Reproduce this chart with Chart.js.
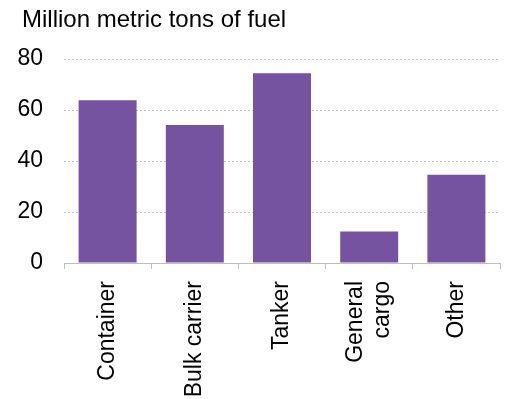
<!DOCTYPE html>
<html>
<head>
<meta charset="utf-8">
<script src="https://cdn.jsdelivr.net/npm/chart.js@4/dist/chart.umd.min.js"></script>
<style>
  html, body { margin: 0; padding: 0; background: #ffffff; }
  #wrap { width: 506px; height: 399px; position: relative; }
  #title {
    position: absolute; left: 22px; top: 7px; margin: 0;
    font: normal 24px/24px "Liberation Sans", Arial, sans-serif;
    color: #000000; white-space: nowrap;
  }
  #c { position: absolute; left: 0; top: 0; }
</style>
</head>
<body>
<div id="wrap">
  <canvas id="c" width="506" height="399"></canvas>
  <div id="title">Million metric tons of fuel</div>
</div>
<script>
// Fuel consumption by ship type (million metric tons)
const categories = ['Container', 'Bulk carrier', 'Tanker', ['General', 'cargo'], 'Other'];
const fuelUse = [63.8, 54.1, 74.4, 12.4, 34.6];
const yTicks = [0, 20, 40, 60, 80];

const FONT = '"Liberation Sans", Arial, sans-serif';

// Center two-line rotated category labels on their tick
const centerMultiLineLabels = {
  id: 'centerMultiLineLabels',
  beforeDraw(chart) {
    const scale = chart.scales.x;
    const items = scale.getLabelItems();
    items.forEach((it) => {
      if (Array.isArray(it.label) && it.label.length > 1 && !it._centered) {
        it.textOffset -= (it.label.length - 1) * it.font.lineHeight / 2;
        it._centered = true;
      }
    });
  }
};

new Chart(document.getElementById('c'), {
  type: 'bar',
  data: {
    labels: categories,
    datasets: [{
      data: fuelUse,
      backgroundColor: '#7553a0',
      borderWidth: 0,
      barPercentage: 0.665,
      categoryPercentage: 1
    }]
  },
  options: {
    responsive: false,
    animation: false,
    events: [],
    layout: { padding: { top: 59, left: 0, right: 6, bottom: 0 } },
    plugins: {
      legend: { display: false },
      tooltip: { enabled: false },
      title: { display: false }
    },
    scales: {
      x: {
        offset: true,
        border: { display: true, color: '#bfbfbf', width: 1 },
        grid: {
          display: true,
          offset: true,
          drawOnChartArea: false,
          drawTicks: true,
          tickLength: 6,
          color: '#bfbfbf'
        },
        ticks: {
          color: '#000000',
          font: { family: FONT, size: 23, lineHeight: 1.2 },
          minRotation: 90,
          maxRotation: 90,
          autoSkip: false,
          padding: 12
        },
        afterFit: (s) => { s.height = 136; }
      },
      y: {
        min: yTicks[0],
        max: yTicks[yTicks.length - 1],
        border: { display: false, dash: [2, 2] },
        grid: {
          color: '#c4c4c4',
          lineWidth: 1,
          drawTicks: false
        },
        afterBuildTicks: (s) => { s.ticks = yTicks.map(v => ({ value: v })); },
        ticks: {
          color: '#000000',
          font: { family: FONT, size: 23 },
          padding: 21
        },
        afterFit: (s) => { s.width = 64; }
      }
    }
  },
  plugins: [centerMultiLineLabels]
});
</script>
</body>
</html>
